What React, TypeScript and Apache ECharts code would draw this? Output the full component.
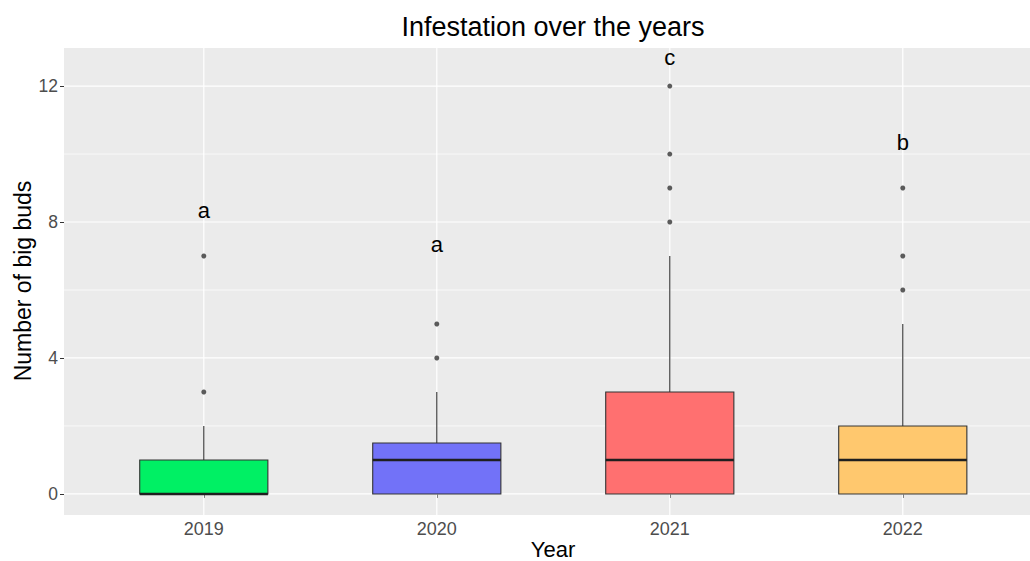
import React, { useEffect, useRef } from "react";
import * as echarts from "echarts";

const years = ["2019", "2020", "2021", "2022"];
// [position, min(whisker low), Q1, median, Q3, max(whisker high)]
const boxStats = [
  [1, 0, 0, 0, 1, 2],
  [2, 0, 0, 1, 1.5, 3],
  [3, 0, 0, 1, 3, 7],
  [4, 0, 0, 1, 2, 5],
];
const boxColors = ["#00F064", "#7272F8", "#FF7070", "#FFC86E"];
const outliers = [
  [1, 3], [1, 7],
  [2, 4], [2, 5],
  [3, 8], [3, 9], [3, 10], [3, 12],
  [4, 6], [4, 7], [4, 9],
];
const letters = ["a", "a", "c", "b"];
const letterY = [8.35, 7.35, 12.85, 10.35];
const yMajor = [0, 4, 8, 12];
const yMinor = [2, 6, 10];
const xTicks = [1, 2, 3, 4];

const FONT = "Liberation Sans, Arial, Helvetica, sans-serif";

export default function App() {
  const ref = useRef<HTMLDivElement>(null);
  useEffect(() => {
    if (!ref.current) return;
    const chart = echarts.init(ref.current, undefined, { renderer: "svg" });
    const option: any = {
      animation: false,
      backgroundColor: "#FFFFFF",
      textStyle: { fontFamily: FONT },
      grid: {
        left: 64,
        right: 0,
        top: 48,
        bottom: 46,
        show: true,
        backgroundColor: "#EBEBEB",
        borderWidth: 0,
      },
      xAxis: {
        type: "value",
        min: 0.4,
        max: 4.546,
        axisLine: { show: false },
        splitLine: { show: false },
        axisTick: {
          show: true,
          customValues: xTicks,
          length: 4,
          lineStyle: { color: "#333333", width: 1 },
        },
        axisLabel: {
          customValues: xTicks,
          formatter: (v: number) => years[Math.round(v) - 1] ?? "",
          color: "#4D4D4D",
          fontSize: 18,
          margin: 5,
          fontFamily: FONT,
        },
      },
      yAxis: {
        type: "value",
        min: -0.62,
        max: 13.12,
        axisLine: { show: false },
        splitLine: { show: false },
        axisTick: {
          show: true,
          customValues: yMajor,
          length: 4,
          lineStyle: { color: "#333333", width: 1 },
        },
        axisLabel: {
          customValues: yMajor,
          color: "#4D4D4D",
          fontSize: 17.5,
          margin: 6,
          fontFamily: FONT,
        },
      },
      graphic: [
        {
          type: "text",
          x: 553,
          y: 27,
          style: {
            text: "Infestation over the years",
            fontSize: 27,
            fill: "#000000",
            align: "center",
            verticalAlign: "middle",
            fontFamily: FONT,
          },
        },
        {
          type: "text",
          x: 553,
          y: 549,
          style: {
            text: "Year",
            fontSize: 22,
            fill: "#000000",
            align: "center",
            verticalAlign: "middle",
            fontFamily: FONT,
          },
        },
        {
          type: "text",
          x: 23,
          y: 281,
          rotation: Math.PI / 2,
          style: {
            text: "Number of big buds",
            fontSize: 23,
            fill: "#000000",
            align: "center",
            verticalAlign: "middle",
            fontFamily: FONT,
          },
        },
      ],
      series: [
        {
          type: "custom",
          z: 1,
          silent: true,
          data: yMajor.map((v) => [v, 1]).concat(yMinor.map((v) => [v, 0.6])),
          renderItem: (params: any, api: any) => {
            const cs = params.coordSys;
            const y = api.coord([1, api.value(0)])[1];
            return {
              type: "line",
              shape: { x1: cs.x, y1: y, x2: cs.x + cs.width, y2: y },
              style: { stroke: "#FFFFFF", lineWidth: api.value(1) * 1.2 },
            };
          },
        },
        {
          type: "custom",
          z: 1,
          silent: true,
          data: xTicks.map((v) => [v]),
          renderItem: (params: any, api: any) => {
            const cs = params.coordSys;
            const x = api.coord([api.value(0), 0])[0];
            return {
              type: "line",
              shape: { x1: x, y1: cs.y, x2: x, y2: cs.y + cs.height },
              style: { stroke: "#FFFFFF", lineWidth: 1.2 },
            };
          },
        },
        {
          type: "custom",
          z: 2,
          silent: true,
          data: boxStats,
          renderItem: (params: any, api: any) => {
            const pos = api.value(0);
            const lo = api.coord([pos, api.value(1)]);
            const q1 = api.coord([pos, api.value(2)]);
            const med = api.coord([pos, api.value(3)]);
            const q3 = api.coord([pos, api.value(4)]);
            const hi = api.coord([pos, api.value(5)]);
            const left = api.coord([pos - 0.275, 0])[0];
            const right = api.coord([pos + 0.275, 0])[0];
            const cx = q1[0];
            const children: any[] = [];
            if (hi[1] < q3[1]) {
              children.push({
                type: "line",
                shape: { x1: cx, y1: q3[1], x2: cx, y2: hi[1] },
                style: { stroke: "#333333", lineWidth: 1.1 },
              });
            }
            if (lo[1] > q1[1]) {
              children.push({
                type: "line",
                shape: { x1: cx, y1: q1[1], x2: cx, y2: lo[1] },
                style: { stroke: "#333333", lineWidth: 1.1 },
              });
            }
            children.push({
              type: "rect",
              shape: { x: left, y: q3[1], width: right - left, height: q1[1] - q3[1] },
              style: {
                fill: boxColors[params.dataIndex],
                stroke: "#333333",
                lineWidth: 1.1,
              },
            });
            children.push({
              type: "line",
              shape: { x1: left, y1: med[1], x2: right, y2: med[1] },
              style: { stroke: "#1F1F1F", lineWidth: 2.4 },
            });
            return { type: "group", children };
          },
        },
        {
          type: "scatter",
          z: 3,
          silent: true,
          symbol: "circle",
          symbolSize: 5,
          itemStyle: { color: "#333333" },
          data: outliers,
        },
        {
          type: "custom",
          z: 4,
          silent: true,
          data: letters.map((l, i) => [i + 1, letterY[i]]),
          renderItem: (params: any, api: any) => {
            const p = api.coord([api.value(0), api.value(1)]);
            return {
              type: "text",
              x: p[0],
              y: p[1],
              style: {
                text: letters[params.dataIndex],
                fontSize: 22,
                fill: "#000000",
                align: "center",
                verticalAlign: "middle",
                fontFamily: FONT,
              },
            };
          },
        },
      ],
    };
    chart.setOption(option);
    return () => chart.dispose();
  }, []);
  return (
    <div
      ref={ref}
      style={{ position: "fixed", left: 0, top: 0, width: 1030, height: 561 }}
    />
  );
}
